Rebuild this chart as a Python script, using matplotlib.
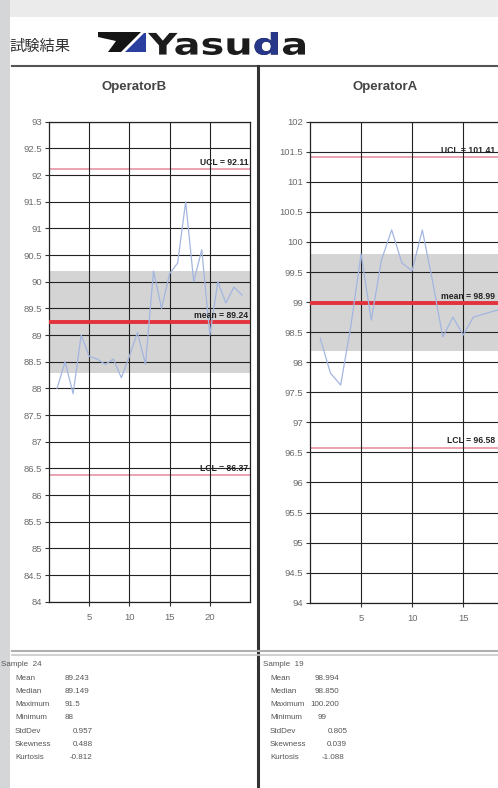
import matplotlib
matplotlib.use("Agg")
import matplotlib.pyplot as plt
from matplotlib.patches import Polygon, Rectangle, PathPatch
from matplotlib.textpath import TextPath
from matplotlib.font_manager import FontProperties
from matplotlib.transforms import Affine2D

W, H = 498, 788

# OperatorB (left panel)
b_values = [88.0, 88.5, 87.9, 89.0, 88.6, 88.55, 88.45, 88.55, 88.2, 88.6, 89.05, 88.45,
            90.2, 89.5, 90.15, 90.35, 91.5, 90.0, 90.6, 89.0, 90.0, 89.6, 89.9, 89.75]
b_mean, b_sd, b_ucl, b_lcl = 89.24, 0.957, 92.11, 86.37

# OperatorA (right panel)
a_values = [98.4, 97.82, 97.62, 98.6, 99.8, 98.7, 99.7, 100.2, 99.65, 99.52, 100.2, 99.35,
            98.42, 98.75, 98.45, 98.75, 98.8, 98.85, 98.9]
a_mean, a_sd, a_ucl, a_lcl = 98.99, 0.805, 101.41, 96.58

stat_names = ["Mean", "Median", "Maximum", "Minimum", "StdDev", "Skewness", "Kurtosis"]
b_stat_text = ["89.243", "89.149", "91.5", "88", "0.957", "0.488", "-0.812"]
a_stat_text = ["98.994", "98.850", "100.200", "99", "0.805", "0.039", "-1.088"]

fig = plt.figure(figsize=(W / 100, H / 100), dpi=100)
fig.patch.set_facecolor("white")

# pixel overlay for header, separators and stats
bg = fig.add_axes([0, 0, 1, 1])
bg.set_xlim(0, W)
bg.set_ylim(H, 0)
bg.axis("off")

bg.add_patch(Rectangle((0, 0), W, 17, color="#ebebeb", lw=0))
bg.add_patch(Rectangle((0, 0), 10, H, color="#d4d6d8", lw=0))

bg.text(9, 46, "試験結果", fontsize=11, color="#333333", va="center", ha="left",
        family=["Noto Sans CJK JP", "DejaVu Sans"])

# logo mark
bg.add_patch(Polygon([(98, 32), (141, 32), (121, 52), (108, 52), (116, 41), (98, 37)],
                     closed=True, color="#151515", lw=0))
bg.add_patch(Polygon([(144, 33), (146, 33), (146, 52), (125, 52)],
                     closed=True, color="#2b3f9e", lw=0))

# logo word
prop = FontProperties(family="DejaVu Sans", weight="bold")
tp = TextPath((0, 0), "Yasuda", size=1, prop=prop)
ext = tp.get_extents()
sx = 157 / (ext.x1 - ext.x0)
sy = 23 / (ext.y1 - ext.y0)
tr = Affine2D().translate(-ext.x0, -ext.y0).scale(sx, -sy).translate(148, 55)
bg.add_patch(PathPatch(tr.transform_path(tp), color="#1c1c1c", lw=0))
d0 = TextPath((0, 0), "Yasu", size=1, prop=prop).get_extents().x1
d1 = TextPath((0, 0), "Yasud", size=1, prop=prop).get_extents().x1
blue = PathPatch(tr.transform_path(tp), color="#27378a", lw=0)
bg.add_patch(blue)
clip = Rectangle((148 + (d0 - ext.x0) * sx + 1, 20), (d1 - d0) * sx, 40,
                 transform=bg.transData, visible=False)
bg.add_patch(clip)
blue.set_clip_path(clip)

bg.plot([12, W], [66, 66], color="#555555", lw=1.5)
bg.plot([257.5, 257.5], [66, H], color="#333333", lw=2.2)
bg.plot([12, W], [651, 651], color="#b0b0b0", lw=1.5)
bg.plot([12, W], [655, 655], color="#c8c8c8", lw=1.2)

bg.text(134, 87, "OperatorB", fontsize=9.5, fontweight="bold", color="#444444",
        ha="center", va="center", family="Liberation Sans")
bg.text(385, 87, "OperatorA", fontsize=9.5, fontweight="bold", color="#444444",
        ha="center", va="center", family="Liberation Sans")

# stats blocks
stat_style = dict(fontsize=5.8, color="#555555", va="center", family="Liberation Sans")
bg.text(1, 664, "Sample  24", **stat_style)
bg.text(263, 664, "Sample  19", **stat_style)
b_val_x = [65, 65, 65, 65, 73, 73, 70]
a_val_x = [315, 315, 310, 318, 328, 327, 322]
for k, name in enumerate(stat_names):
    y = 678 + k * 13.3
    bg.text(15, y, name, **stat_style)
    bg.text(b_val_x[k], y, b_stat_text[k], **stat_style)
    bg.text(270, y, name, **stat_style)
    bg.text(a_val_x[k], y, a_stat_text[k], **stat_style)


def px_axes(x0, x1, y0, y1):
    return fig.add_axes([x0 / W, 1 - y1 / H, (x1 - x0) / W, (y1 - y0) / H])


def draw_panel(ax, values, mean, sd, ucl, lcl, ylo, yhi, xmax, xticks, lab_dx):
    xs = list(range(1, len(values) + 1))
    ax.set_xlim(0, xmax)
    ax.set_ylim(ylo, yhi)
    ax.axhspan(mean - sd, mean + sd, color="#d4d4d4", lw=0, zorder=0)
    yt = [ylo + 0.5 * k for k in range(int((yhi - ylo) * 2) + 1)]
    ax.set_yticks(yt)
    ax.set_yticklabels([f"{v:g}" for v in yt])
    ax.set_xticks(xticks)
    ax.grid(True, color="#222222", lw=0.8, zorder=1)
    ax.set_axisbelow(False)
    ax.axhline(ucl, color="#e6899a", lw=1.1, zorder=2)
    ax.axhline(lcl, color="#e6899a", lw=1.1, zorder=2)
    ax.axhline(mean, color="#e2323c", lw=2.8, zorder=3)
    ax.plot(xs, values, color="#a3b6e0", lw=0.9, zorder=4)
    lab = dict(fontsize=6.2, fontweight="bold", color="#222222", ha="right",
               va="bottom", textcoords="offset points", xytext=(lab_dx, 1.5),
               family="Liberation Sans", zorder=5, annotation_clip=False)
    ax.annotate(f"UCL = {ucl:.2f}", xy=(xmax, ucl), **lab)
    ax.annotate(f"mean = {mean:.2f}", xy=(xmax, mean), **lab)
    ax.annotate(f"LCL = {lcl:.2f}", xy=(xmax, lcl), **lab)
    for s in ax.spines.values():
        s.set_color("#222222")
        s.set_linewidth(0.9)
    ax.tick_params(direction="out", length=3, width=0.8, color="#333333",
                   labelsize=6.8, labelcolor="#6a6a6a", pad=2)
    for t in ax.get_xticklabels() + ax.get_yticklabels():
        t.set_family("Liberation Sans")
    ax.tick_params(axis="x", pad=5)


ax_b = px_axes(49, 250, 121.7, 601.7)
draw_panel(ax_b, b_values, b_mean, b_sd, b_ucl, b_lcl, 84, 93, 25, [5, 10, 15, 20], -1)

ax_a = px_axes(310, 504, 121.7, 602.7)
draw_panel(ax_a, a_values, a_mean, a_sd, a_ucl, a_lcl, 94, 102, 19, [5, 10, 15], -6.5)

fig.savefig("out.png", dpi=100)
